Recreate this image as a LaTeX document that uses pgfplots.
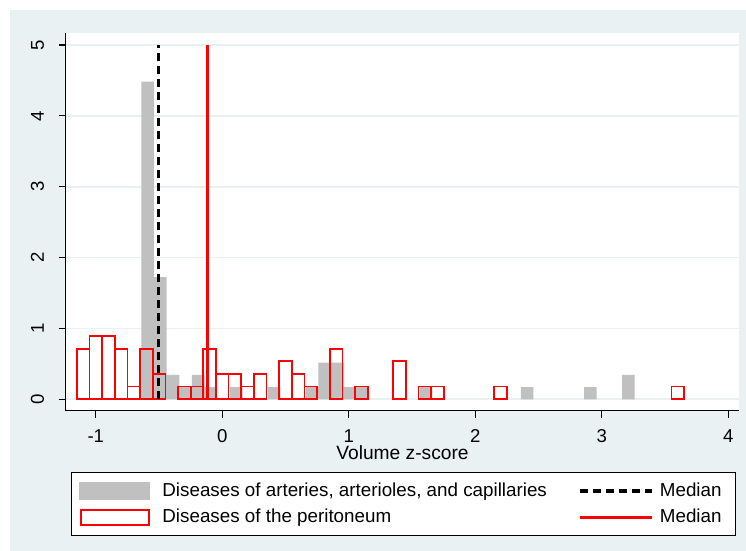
\documentclass[border=0pt]{standalone}
\usepackage{fontspec}
\setmainfont{Liberation Sans}
\usepackage{pgfplots}
\pgfplotsset{compat=1.18}
\definecolor{bgc}{RGB}{233,241,243}
\definecolor{gridc}{RGB}{232,240,242}
\definecolor{barg}{RGB}{192,192,192}
\definecolor{sred}{RGB}{255,0,0}
\begin{document}
\begin{tikzpicture}
\useasboundingbox (-32.85pt,-70.15pt) rectangle (340.15pt,205.35pt);
\fill[white] (-32.85pt,-70.15pt) rectangle (340.15pt,205.35pt);
\fill[bgc] (-27.85pt,-70.15pt) rectangle (340.15pt,200.35pt);
\begin{axis}[
  scale only axis, width=336.8pt, height=188.7pt,
  xmin=-1.238, xmax=4.087, ymin=-0.161, ymax=5.165,
  axis background/.style={fill=white},
  axis x line*=bottom, axis y line*=left,
  axis line style={black, line width=0.6pt},
  xtick={-1,0,1,2,3,4}, xticklabels={-1,0,1,2,3,4},
  ytick={0,1,2,3,4,5}, yticklabels={0,1,2,3,4,5},
  tick align=outside, major tick length=3.5pt,
  tick style={black, line width=0.6pt},
  ymajorgrids, grid style={gridc, line width=0.8pt},
  tick label style={font=\fontsize{9.3}{11}\selectfont, inner sep=0pt},
  yticklabel style={rotate=90, anchor=south},
  xticklabel style={anchor=north},
  xticklabel shift=5.8pt, yticklabel shift=7.15pt,
  every axis x label/.style={at={(axis description cs:0.5,0)}, anchor=north, inner sep=0pt, yshift=-17pt, font=\fontsize{9.6}{11}\selectfont},
  xlabel={Volume z-score},
  legend columns=2, legend cell align=left,
  legend style={
    at={(axis description cs:0.5,0)}, anchor=north, yshift=-30.65pt, xshift=0.5pt,
    draw=black, line width=0.5pt, fill=white,
    font=\fontsize{9.4}{11}\selectfont,
    inner xsep=4pt, inner ysep=4.7pt, row sep=4.5pt,
    nodes={inner sep=0pt},
    /tikz/every odd column/.append style={column sep=6pt},
    /tikz/every even column/.append style={column sep=16.5pt},
  },
]
% Diseases of arteries, arterioles, and capillaries (density, bin width 0.1)
\addplot[ybar, bar width=0.1, bar shift=0pt, fill=barg, draw=none, forget plot] coordinates {
(-0.59,4.483) (-0.49,1.724) (-0.39,0.345) (-0.29,0.1724) (-0.19,0.345) (-0.09,0.1724)
(0.11,0.1724) (0.41,0.1724) (0.71,0.1724) (0.81,0.517) (0.91,0.517) (1.01,0.1724)
(1.11,0.1724) (1.61,0.1724) (2.41,0.1724) (2.91,0.1724) (3.21,0.345)
};
% Diseases of the peritoneum
\addplot[ybar, bar width=0.1, bar shift=0pt, fill=none, draw=sred, line width=0.85pt, forget plot] coordinates {
(-1.10,0.714) (-1.00,0.893) (-0.90,0.893) (-0.80,0.714) (-0.70,0.179) (-0.60,0.714)
(-0.50,0.357) (-0.30,0.179) (-0.20,0.179) (-0.10,0.714) (0.00,0.357) (0.10,0.357)
(0.20,0.179) (0.30,0.357) (0.50,0.536) (0.60,0.357) (0.70,0.179) (0.90,0.714)
(1.10,0.179) (1.40,0.536) (1.60,0.179) (1.70,0.179) (2.20,0.179) (3.60,0.179)
};
\addplot[black, line width=1.65pt, dash pattern=on 4pt off 2.5pt, forget plot] coordinates {(-0.506,0) (-0.506,5)};
\addplot[sred, line width=1.4pt, forget plot] coordinates {(-0.115,0) (-0.115,5)};
\addlegendimage{legend image code/.code={\fill[barg] (0pt,-4.25pt) rectangle (35pt,4.25pt);}}
\addlegendentry{Diseases of arteries, arterioles, and capillaries}
\addlegendimage{legend image code/.code={\path (0pt,0pt) (33.5pt,0pt); \draw[overlay, black, line width=1.65pt, dash pattern=on 4pt off 2.5pt] (0pt,0pt) -- (36pt,0pt);}}
\addlegendentry{Median\hspace*{3pt}}
\addlegendimage{legend image code/.code={\draw[sred, line width=0.85pt, fill=white] (0.4pt,-3.85pt) rectangle (34.6pt,3.85pt);}}
\addlegendentry{Diseases of the peritoneum}
\addlegendimage{legend image code/.code={\path (0pt,0pt) (33.5pt,0pt); \draw[overlay, sred, line width=1.8pt] (0pt,0pt) -- (36pt,0pt);}}
\addlegendentry{Median\hspace*{3pt}}
\end{axis}
\end{tikzpicture}
\end{document}
